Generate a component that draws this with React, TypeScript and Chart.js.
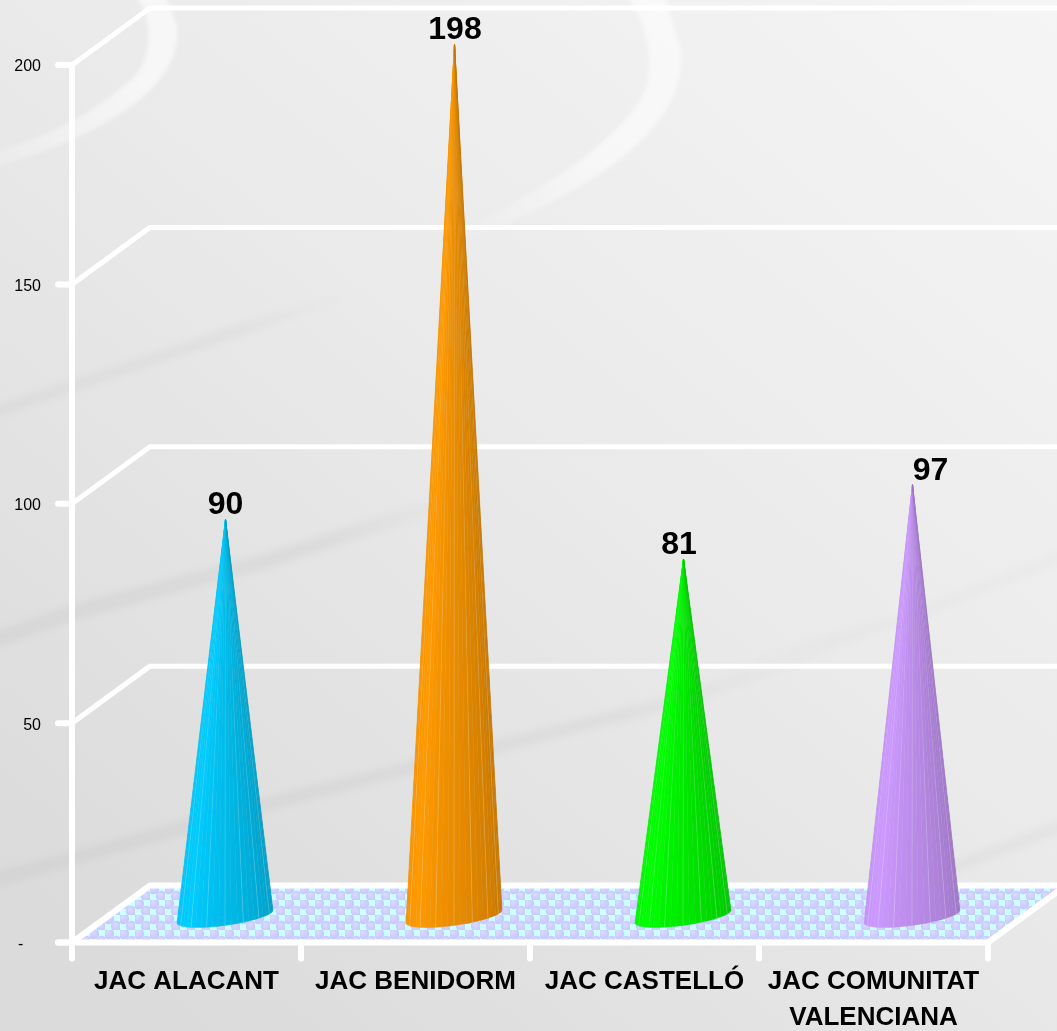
import React, { useEffect, useRef } from "react";
import { Chart, registerables } from "chart.js";

Chart.register(...registerables);

const categories: (string | string[])[] = ["JAC ALACANT", "JAC BENIDORM", "JAC CASTELLÓ", ["JAC COMUNITAT", "VALENCIANA"]];
const values = [90, 198, 81, 97];
const coneColors = ["#00CCFF", "#FF9900", "#00FF00", "#CC99FF"];
const yTicks = [0, 50, 100, 150, 200];
const labelShift = [0, 0.5, -4.5, 18];
const apexLift = [0, 0, 0, 4];

const FONT = "'Liberation Sans', Arial, sans-serif";
const DX = 78; // depth of the 3D box
const DY = 57;

function shade(hex: string, f: number) {
  const n = parseInt(hex.slice(1), 16);
  const c = [(n >> 16) & 255, (n >> 8) & 255, n & 255].map((v) => Math.round(v * f));
  return `rgb(${c[0]},${c[1]},${c[2]})`;
}

function floorPattern(ctx: CanvasRenderingContext2D) {
  const c = document.createElement("canvas");
  c.width = 15;
  c.height = 15;
  const p = c.getContext("2d")!;
  p.fillStyle = "#CCFFFF";
  p.fillRect(0, 0, 15, 15);
  const dot = (x: number, y: number) => {
    const g = p.createRadialGradient(x - 1.5, y - 2, 0.5, x, y, 5.4);
    g.addColorStop(0, "#DADAFF");
    g.addColorStop(1, "#C6C6FF");
    p.fillStyle = g;
    p.beginPath();
    p.arc(x, y, 5.4, 0, Math.PI * 2);
    p.fill();
  };
  dot(3.75, 3.75);
  dot(11.25, 11.25);
  return ctx.createPattern(c, "repeat")!;
}

function band(ctx: CanvasRenderingContext2D, pts: number[][], w: number, alpha: number) {
  const a = pts[0];
  const b = pts[pts.length - 1];
  const g = ctx.createLinearGradient(a[0], a[1], b[0], b[1]);
  g.addColorStop(0, `rgba(0,0,0,${alpha})`);
  g.addColorStop(0.7, `rgba(0,0,0,${alpha})`);
  g.addColorStop(1, "rgba(0,0,0,0)");
  ctx.strokeStyle = g;
  ctx.lineWidth = w;
  ctx.beginPath();
  pts.forEach((p, i) => (i ? ctx.lineTo(p[0], p[1]) : ctx.moveTo(p[0], p[1])));
  ctx.stroke();
}

const backdrop = {
  id: "backdrop",
  beforeDraw(chart: any) {
    const { ctx, width, height } = chart;
    const g = ctx.createLinearGradient(width, 0, width * 0.2, height);
    g.addColorStop(0, "#F5F5F5");
    g.addColorStop(0.5, "#EAEAEA");
    g.addColorStop(1, "#DBDBDB");
    ctx.save();
    ctx.fillStyle = g;
    ctx.fillRect(0, 0, width, height);
    ctx.filter = "blur(2px)";
    // pale swooshes
    const s1 = ctx.createLinearGradient(0, 160, 120, 60);
    s1.addColorStop(0, "rgba(255,255,255,0.2)");
    s1.addColorStop(1, "rgba(255,255,255,0.6)");
    ctx.fillStyle = s1;
    ctx.beginPath();
    ctx.moveTo(-5, 168);
    ctx.bezierCurveTo(70, 145, 185, 100, 177, 25);
    ctx.lineTo(165, -5);
    ctx.lineTo(135, -5);
    ctx.bezierCurveTo(150, 10, 160, 60, 125, 85);
    ctx.bezierCurveTo(90, 115, 50, 135, -5, 152);
    ctx.closePath();
    ctx.fill();
    const s2 = ctx.createLinearGradient(450, 240, 600, 150);
    s2.addColorStop(0, "rgba(255,255,255,0)");
    s2.addColorStop(1, "rgba(255,255,255,0.55)");
    ctx.fillStyle = s2;
    ctx.beginPath();
    ctx.moveTo(460, 242);
    ctx.bezierCurveTo(560, 205, 690, 140, 681, 50);
    ctx.lineTo(665, -5);
    ctx.lineTo(625, -5);
    ctx.bezierCurveTo(645, 15, 660, 70, 640, 100);
    ctx.bezierCurveTo(610, 150, 530, 195, 460, 232);
    ctx.closePath();
    ctx.fill();
    // darker diagonal bands
    ctx.filter = "blur(4px)";
    band(ctx, [[-5, 412], [250, 327], [345, 295]], 9, 0.035);
    band(ctx, [[-5, 640], [74, 612], [270, 560], [470, 495]], 14, 0.04);
    band(ctx, [[-5, 880], [290, 798], [674, 702], [880, 630]], 12, 0.035);
    band(ctx, [[1065, 825], [964, 863], [880, 900]], 10, 0.03);
    band(ctx, [[1065, 555], [900, 620], [740, 665]], 8, 0.02);
    ctx.restore();
  },
};

const box3d = {
  id: "box3d",
  beforeDatasetsDraw(chart: any) {
    const { ctx, scales } = chart;
    const y = scales.y;
    const x = scales.x;
    const y0 = y.getPixelForValue(0);
    const left = x.left;
    const right = x.right;
    ctx.save();
    ctx.lineCap = "round";
    ctx.lineJoin = "round";
    // floor
    ctx.fillStyle = floorPattern(ctx);
    ctx.beginPath();
    ctx.moveTo(left, y0);
    ctx.lineTo(left + DX, y0 - DY);
    ctx.lineTo(1065, y0 - DY);
    ctx.lineTo(right, y0);
    ctx.closePath();
    ctx.fill();
    ctx.strokeStyle = "#FFFFFF";
    // wall lines
    yTicks.forEach((v) => {
      const py = y.getPixelForValue(v);
      ctx.lineWidth = v === 0 ? 6 : 5;
      ctx.beginPath();
      ctx.moveTo(left, py);
      ctx.lineTo(left + DX, py - DY);
      ctx.lineTo(1065, py - DY);
      ctx.stroke();
      ctx.lineWidth = 6;
      ctx.beginPath();
      ctx.moveTo(left - 14, py);
      ctx.lineTo(left, py);
      ctx.stroke();
    });
    // right edge of floor
    ctx.lineWidth = 6;
    ctx.beginPath();
    ctx.moveTo(right, y0);
    ctx.lineTo(right + DX, y0 - DY);
    ctx.stroke();
    // axes
    ctx.beginPath();
    ctx.moveTo(left, y.getPixelForValue(200));
    ctx.lineTo(left, y0 + 16);
    ctx.moveTo(left - 14, y0);
    ctx.lineTo(right, y0);
    ctx.stroke();
    const step = (right - left) / categories.length;
    for (let i = 1; i <= categories.length; i++) {
      ctx.beginPath();
      ctx.moveTo(left + step * i, y0);
      ctx.lineTo(left + step * i, y0 + 16);
      ctx.stroke();
    }
    ctx.restore();
  },
};

const cones = {
  id: "cones",
  afterDatasetsDraw(chart: any) {
    const { ctx } = chart;
    const meta = chart.getDatasetMeta(0);
    const n = 24;
    const a = 48;
    const b = 9;
    const tilt = -0.135;
    meta.data.forEach((bar: any, i: number) => {
      const apexX = bar.x + 39;
      const apexY = bar.y - 27 - (bar.base - bar.y) * 0.003 - apexLift[i];
      const cx = bar.x + 38.5;
      const cy = bar.base - 26;
      const color = coneColors[i];
      const pt = (k: number) => {
        const th = (Math.PI * k) / n;
        const px = cx - a * Math.cos(th);
        return [px, cy + tilt * (px - cx) + b * Math.sin(th)];
      };
      ctx.save();
      for (let k = 0; k < n; k++) {
        const [x0, y0] = pt(k);
        const [x1, y1] = pt(k + 1);
        const t = (k + 0.5) / n;
        const f = t < 0.22 ? 0.94 + (0.06 * t) / 0.22 : 1 - (0.24 * (t - 0.22)) / 0.78;
        ctx.fillStyle = shade(color, f);
        ctx.strokeStyle = shade(color, f);
        ctx.lineWidth = 0.4;
        ctx.beginPath();
        ctx.moveTo(apexX, apexY);
        ctx.lineTo(x0, y0);
        ctx.lineTo(x1, y1);
        ctx.closePath();
        ctx.fill();
        ctx.stroke();
      }
      // pale seams between facets, fading toward the apex
      ctx.lineWidth = 0.7;
      for (let k = 3; k < n; k += 3) {
        const [x0, y0] = pt(k);
        const g = ctx.createLinearGradient(apexX, apexY, x0, y0);
        g.addColorStop(0, "rgba(255,255,255,0)");
        g.addColorStop(0.35, "rgba(255,255,255,0.08)");
        g.addColorStop(1, "rgba(255,255,255,0.28)");
        ctx.strokeStyle = g;
        ctx.beginPath();
        ctx.moveTo(apexX, apexY);
        ctx.lineTo(x0, y0);
        ctx.stroke();
      }
      // value label
      ctx.fillStyle = "#000000";
      ctx.font = `bold 32px ${FONT}`;
      ctx.textAlign = "center";
      ctx.textBaseline = "alphabetic";
      ctx.fillText(String(values[i]), apexX + labelShift[i], apexY - 5);
      ctx.restore();
    });
  },
};

export default function App() {
  const ref = useRef<HTMLCanvasElement>(null);
  useEffect(() => {
    const chart = new Chart(ref.current!, {
      type: "bar",
      data: {
        labels: categories as any,
        datasets: [{ data: values, backgroundColor: "rgba(0,0,0,0)", borderWidth: 0 }],
      },
      plugins: [backdrop, box3d, cones],
      options: {
        animation: false,
        responsive: false,
        layout: { padding: { top: 65, right: 69, left: 0, bottom: 0 } },
        plugins: { legend: { display: false }, tooltip: { enabled: false } },
        scales: {
          x: {
            grid: { display: false },
            border: { display: false },
            afterFit: (s: any) => { s.height = 88.5; },
            ticks: {
              autoSkip: false,
              maxRotation: 0,
              padding: 14,
              color: "#000000",
              font: { family: FONT, weight: "bold", size: 26, lineHeight: 1.36 },
            },
          },
          y: {
            min: 0,
            max: 200,
            grid: { display: false },
            border: { display: false },
            afterFit: (s: any) => { s.width = 72; },
            ticks: {
              stepSize: 50,
              padding: 23,
              labelOffset: 2,
              color: "#000000",
              font: { family: FONT, size: 16 },
              callback: (v: any) => (v === 0 ? "-    " : String(v)),
            },
          },
        },
      } as any,
    });
    return () => chart.destroy();
  }, []);
  return (
    <div style={{ position: "absolute", left: 0, top: 0, width: 1057, height: 1031 }}>
      <canvas ref={ref} width={1057} height={1031} style={{ display: "block" }} />
    </div>
  );
}
